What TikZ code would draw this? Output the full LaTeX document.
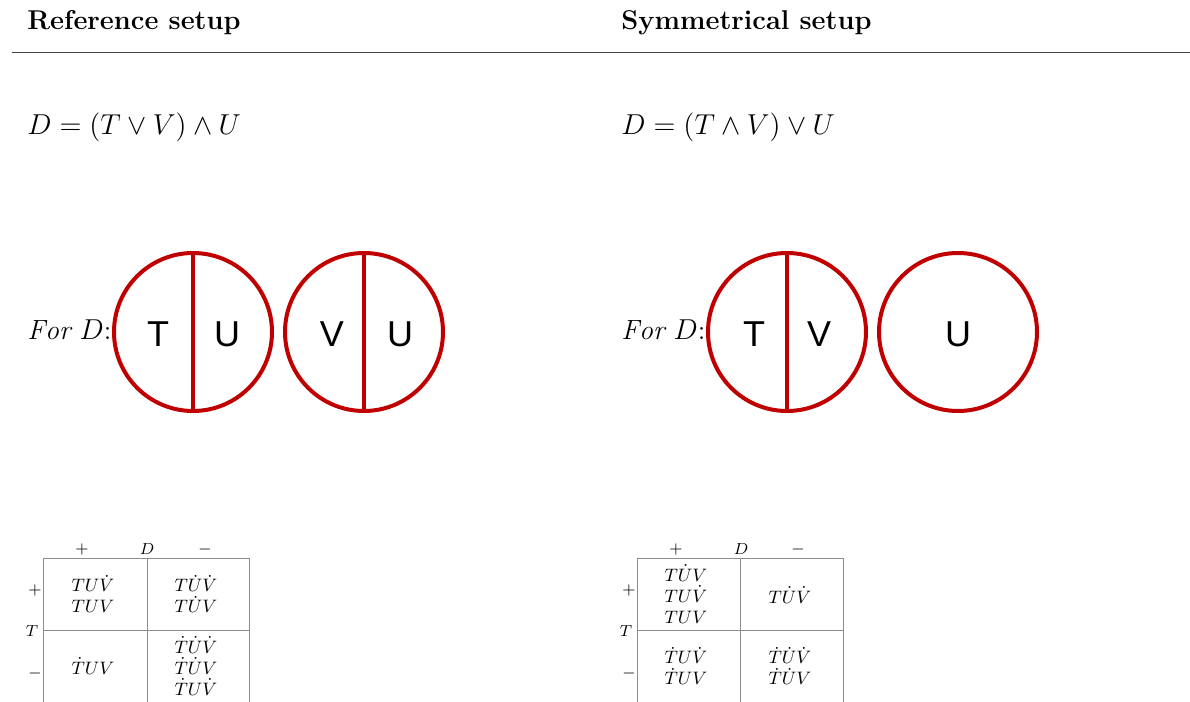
\documentclass[tikz,border=0pt]{standalone}
\usepackage{fontspec}
\newfontfamily\lettersf{Liberation Sans}
\definecolor{circlered}{RGB}{192,0,0}
\begin{document}
\begin{tikzpicture}[x=0.5pt, y=-0.5pt,
    ring_style/.style={circle, draw=circlered, line width=2pt, minimum size=79pt, inner sep=0pt},
    letter_style/.style={font=\lettersf\fontsize{18}{20}\selectfont, inner sep=0pt},
    head_style/.style={anchor=base west, font=\bfseries\fontsize{13.6}{15}\selectfont, inner sep=0pt},
    eq_style/.style={anchor=base west, inner sep=0pt, font=\fontsize{13.9}{15}\selectfont},
    cell_style/.style={align=center, inner sep=0pt, font=\fontsize{9.5}{10.5}\selectfont},
    axis_style/.style={inner sep=0pt, font=\fontsize{8.5}{9}\selectfont},
    grid_style/.style={draw=black!45, line width=0.4pt}
]
\useasboundingbox (0,0) rectangle (1190,702);
\draw[black!75, line width=0.5pt] (12,52) -- (1190,52);
% Reference setup
\begin{scope}
    \node[head_style] (head1) at (27,29) {Reference setup};
    \node[eq_style] (eq1) at (27,134) {$D=(T\vee V)\wedge U$};
    \node[eq_style] (for1) at (27,339) {$\mathit{For}\ D$:};
    \node[ring_style] (ra) at (193,332) {};
    \node[ring_style] (rb) at (364,332) {};
    \draw[circlered, line width=2pt] (ra.north) -- (ra.south);
    \draw[circlered, line width=2pt] (rb.north) -- (rb.south);
    \node[letter_style] (ta) at (158,334) {T};
    \node[letter_style] (ua) at (227,334) {U};
    \node[letter_style] (vb) at (332,334) {V};
    \node[letter_style] (ub) at (400,334) {U};
    % truth table
    \foreach \x in {43,147,249} \draw[grid_style] (\x,558) -- (\x,702);
    \foreach \y in {558,630} \draw[grid_style] (43,\y) -- (249,\y);
    \node[axis_style] (dp1) at (82,549) {$+$};
    \node[axis_style] (dl1) at (147,549) {$D$};
    \node[axis_style] (dm1) at (205,549) {$-$};
    \node[axis_style] (tp1) at (35,590) {$+$};
    \node[axis_style] (tl1) at (32,631) {$T$};
    \node[axis_style] (tm1) at (35,673) {$-$};
    \node[cell_style] (c11) at (93,594) {$TU\dot V$\\$TUV$};
    \node[cell_style] (c12) at (196,594) {$T\dot U\dot V$\\$T\dot UV$};
    \node[cell_style] (c21) at (93,666) {$\dot TUV$};
    \node[cell_style] (c22) at (196,666) {$\dot T\dot U\dot V$\\$\dot T\dot UV$\\$\dot TU\dot V$};
\end{scope}
% Symmetrical setup
\begin{scope}[shift={(594,0)}]
    \node[head_style] (head2) at (27,29) {Symmetrical setup};
    \node[eq_style] (eq2) at (27,134) {$D=(T\wedge V)\vee U$};
    \node[eq_style] (for2) at (27,339) {$\mathit{For}\ D$:};
    \node[ring_style] (rc) at (193,332) {};
    \node[ring_style] (rd) at (364,332) {};
    \draw[circlered, line width=2pt] (rc.north) -- (rc.south);
    \node[letter_style] (tc) at (160,334) {T};
    \node[letter_style] (vc) at (225,334) {V};
    \node[letter_style] (ud) at (364,334) {U};
    % truth table
    \foreach \x in {43,146,249} \draw[grid_style] (\x,558) -- (\x,702);
    \foreach \y in {558,630} \draw[grid_style] (43,\y) -- (249,\y);
    \node[axis_style] (dp2) at (82,549) {$+$};
    \node[axis_style] (dl2) at (147,549) {$D$};
    \node[axis_style] (dm2) at (204,549) {$-$};
    \node[axis_style] (tp2) at (35,590) {$+$};
    \node[axis_style] (tl2) at (32,631) {$T$};
    \node[axis_style] (tm2) at (35,673) {$-$};
    \node[cell_style] (c31) at (92,594) {$T\dot UV$\\$TU\dot V$\\$TUV$};
    \node[cell_style] (c32) at (196,595) {$T\dot U\dot V$};
    \node[cell_style] (c41) at (92,666) {$\dot TU\dot V$\\$\dot TUV$};
    \node[cell_style] (c42) at (196,666) {$\dot T\dot U\dot V$\\$\dot T\dot UV$};
\end{scope}
\end{tikzpicture}
\end{document}
